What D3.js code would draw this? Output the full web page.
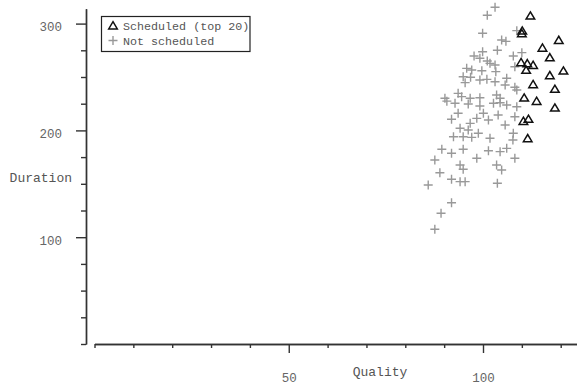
<!DOCTYPE html>
<html><head><meta charset="utf-8">
<script src="https://cdn.jsdelivr.net/npm/d3@7"></script>
<style>
html,body{margin:0;padding:0;background:#fff;}
svg{display:block;}
text{font-family:"Liberation Mono","Courier New",monospace;}
</style></head>
<body>
<svg id="c" width="577" height="388"></svg>
<script>
// Scheduled (top 20): quality / duration
const schedQuality = [112.2,110.1,110.0,119.5,115.3,117.2,109.8,111.4,112.9,111.1,120.7,117.2,112.9,118.5,110.6,113.8,118.5,110.4,111.7,111.5];
const schedDuration = [307.4,293.4,290.9,284.6,277.4,268.4,263.8,262.8,261.2,256.6,255.9,251.6,243.2,238.8,230.6,227.5,221.3,208.8,210.7,192.6];
// Not scheduled
const notQuality = [103.1,101.1,99.9,104.8,105.9,108.7,103.7,99.9,97.7,99.2,101.1,101.8,103.1,107.8,110.0,95.8,97.1,99.7,103.3,108.2,94.9,96.8,99.2,101.0,95.4,103.1,106.1,108.2,108.7,90.2,93.6,94.5,96.7,99.2,103.5,104.4,105.7,
  90.7,92.8,96.2,99.2,102.7,104.4,106.1,108.7,93.6,91.9,96.7,98.4,100.1,101.4,103.9,108.2,94.1,96.2,98.8,105.7,107.8,92.4,94.9,97.1,101.8,107.7,89.4,91.9,94.9,98.4,101.4,104.4,106.1,108.2,87.6,94.1,94.9,103.5,104.8,88.9,91.9,94.1,95.4,103.7,85.9,91.9,89.2,87.6];
const notDuration = [315.3,307.8,290.9,284.6,283.4,293.4,275.0,273.7,269.7,267.5,265.0,262.8,261.2,269.7,272.8,258.1,256.6,255.9,255.0,259.6,250.3,249.7,247.2,247.8,244.7,245.6,248.8,240.4,237.8,230.1,234.7,231.6,230.1,230.6,233.1,230.1,242.5,
  227.4,225.4,224.7,222.8,225.4,225.9,223.8,222.2,216.0,210.4,206.6,211.3,216.0,209.7,214.4,212.8,202.0,200.4,197.3,205.1,197.3,194.1,194.1,193.5,192.6,191.0,182.3,178.6,182.3,173.9,181.0,180.1,183.2,173.9,172.3,167.6,163.6,167.6,162.9,160.4,154.2,152.0,152.0,150.5,148.9,132.3,122.4,107.4];
const xMajorTicks = [50, 100];
const xMinorTicks = [0,10,20,30,40,60,70,80,90,110,120,130];
const yMajorTicks = [100, 200, 300];
const yMinorTicks = [0,25,50,75,125,150,175,225,250,275];
const legendLabels = ["Scheduled (top 20)", "Not scheduled"];
const xTitle = "Quality", yTitle = "Duration";

const svg = d3.select("#c");
const x = d3.scaleLinear().domain([0, 130]).range([94.5, 94.5 + 130 * 3.885]);
const y = d3.scaleLinear().domain([0, 314]).range([344, 344 - 314 * 1.068]);

const axisColor = "#333";
const labelColor = "#666";

// X axis
const gx = svg.append("g").attr("transform", "translate(0,344)");
gx.call(d3.axisBottom(x).tickValues(xMinorTicks).tickSize(4).tickSizeOuter(0).tickFormat(""));
gx.call(g => g.append("g").call(d3.axisBottom(x).tickValues(xMajorTicks).tickSize(9).tickSizeOuter(0).tickPadding(18)));
// Y axis
const gy = svg.append("g").attr("transform", "translate(86,0)");
gy.call(d3.axisLeft(y).tickValues(yMinorTicks).tickSize(5).tickSizeOuter(0).tickFormat(""));
gy.call(g => g.append("g").call(d3.axisLeft(y).tickValues(yMajorTicks).tickSize(10).tickSizeOuter(0).tickPadding(14)));

svg.selectAll(".domain").attr("stroke", axisColor).attr("stroke-width", 1.4);
svg.selectAll(".tick line").attr("stroke", axisColor).attr("stroke-width", 1.4);
svg.selectAll(".tick text").attr("fill", labelColor).style("font-family", "'Liberation Mono', monospace").style("font-size", "12.5px");
gx.selectAll(".tick text").attr("dy", "0.9em");
gy.selectAll(".tick text").attr("dy", "0.55em");

// Titles
svg.append("text").attr("x", 380).attr("y", 376).attr("text-anchor", "middle")
  .attr("fill", "#555").style("font-size", "13px").text(xTitle);
svg.append("text").attr("x", 72).attr("y", 182).attr("text-anchor", "end")
  .attr("fill", "#555").style("font-size", "13px").text(yTitle);

// Points
const plusPath = "M-4.5,0H4.5M0,-4.5V4.5";
const triPath = "M0,-3.8L4.3,3.4L-4.3,3.4Z";
const notData = notQuality.map((q, i) => ({q, d: notDuration[i]}));
const schedData = schedQuality.map((q, i) => ({q, d: schedDuration[i]}));

svg.append("g").selectAll("path").data(notData).join("path")
  .attr("transform", p => `translate(${x(p.q)},${y(p.d)})`)
  .attr("d", plusPath).attr("fill", "none").attr("stroke", "#999").attr("stroke-width", 1.4);
svg.append("g").selectAll("path").data(schedData).join("path")
  .attr("transform", p => `translate(${x(p.q)},${y(p.d)})`)
  .attr("d", triPath).attr("fill", "none").attr("stroke", "#111").attr("stroke-width", 1.5)
  .attr("stroke-linejoin", "miter");

// Legend
const lg = svg.append("g");
lg.append("rect").attr("x", 101.5).attr("y", 16.5).attr("width", 148.5).attr("height", 35)
  .attr("fill", "#fff").attr("stroke", "#222").attr("stroke-width", 1.2);
lg.append("path").attr("transform", "translate(113,25.5)").attr("d", triPath)
  .attr("fill", "none").attr("stroke", "#111").attr("stroke-width", 1.5);
lg.append("path").attr("transform", "translate(113,40.5)").attr("d", plusPath)
  .attr("fill", "none").attr("stroke", "#999").attr("stroke-width", 1.4);
lg.selectAll("text.lab").data(legendLabels).join("text").attr("class", "lab")
  .attr("x", 123).attr("y", (d, i) => 29.5 + i * 15)
  .attr("fill", "#555").style("font-size", "11.7px").text(d => d);
</script>
</body></html>
